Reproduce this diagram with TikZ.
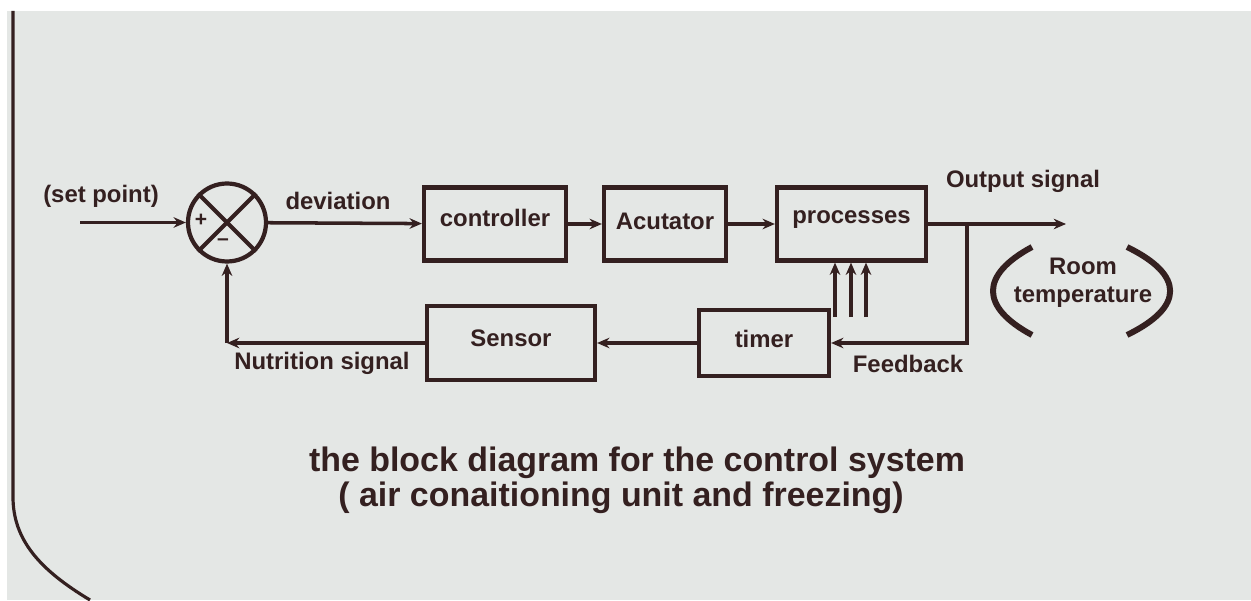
\documentclass[tikz,border=0pt]{standalone}
\usepackage{fontspec}
\setmainfont{Liberation Sans}
\usetikzlibrary{arrows.meta,positioning,calc}
\definecolor{ink}{RGB}{52,32,32}
\definecolor{paper}{RGB}{228,231,229}
\tikzset{
  block/.style={draw=ink,line width=2.4pt,minimum height=1.46cm,inner sep=0pt},
  lbl/.style={text=ink,font=\fontsize{13.6}{16}\selectfont\bfseries,inner sep=0pt},
  wire/.style={ink,line width=2pt}
}

\begin{document}
\begin{tikzpicture}[>={Stealth[length=7pt,width=6pt]}]
  \useasboundingbox (0,0) rectangle (25.02,12);
  % photographed sheet
  \fill[white] (0,0) rectangle (25.02,12);
  \fill[paper] (0.14,0) rectangle (25.02,11.78);
  \draw[ink,line width=1.8pt] (0.26,11.78) -- (0.26,2.06) .. controls (0.26,1.2) and (0.8,0.6) .. (1.8,0);
  % forward path
  \node[circle,draw=ink,line width=2.4pt,minimum size=1.56cm,inner sep=0pt] (sum) at (4.54,7.55) {};
  \draw[ink,line width=2.4pt] (sum.north west) -- (sum.south east);
  \draw[ink,line width=2.4pt] (sum.north east) -- (sum.south west);
  \node[text=ink,font=\large\bfseries] (plus) at ($(sum)+(-0.52,0.05)$) {+};
  \node[text=ink,font=\large\bfseries] (minus) at ($(sum)+(-0.08,-0.4)$) {--};
  \node[block,minimum width=2.84cm] (ctrl) at (9.9,7.52) {};
  \node[lbl] at ($(ctrl)+(0,0.12)$) {controller};
  \node[block,minimum width=2.44cm] (act) at (13.3,7.52) {};
  \node[lbl] at ($(act)+(0,0.05)$) {Acutator};
  \node[block,minimum width=2.98cm] (proc) at (17.03,7.52) {};
  \node[lbl] at ($(proc)+(0,0.08)$) {processes};
  % feedback path
  \node[block,minimum width=2.6cm,minimum height=1.32cm] (tmr) at (15.28,5.14) {};
  \node[lbl] at ($(tmr)+(0,0.08)$) {timer};
  \node[block,minimum width=3.36cm,minimum height=1.48cm] (sens) at (10.22,5.14) {};
  \node[lbl] at ($(sens)+(0,0.1)$) {Sensor};
  \coordinate (In) at (1.6,7.55);
  \coordinate (Out) at (21.32,7.52);
  \coordinate (Br) at (19.34,7.52);
  \coordinate (C) at (4.54,5.14);
  \draw[->,wire] (In) -- (sum);
  \draw[->,wire] (sum) -- (ctrl);
  \draw[->,wire] (ctrl) -- (act);
  \draw[->,wire] (act) -- (proc);
  \draw[->,wire] (proc) -- (Out);
  \draw[->,wire] (Br) |- (tmr.east);
  \draw[->,wire] (tmr) -- (sens);
  \draw[->,wire] (sens) -- (C);
  \draw[->,wire] (C) -- (sum);
  \foreach \i/\x in {1/16.7,2/17.02,3/17.32} {
    \coordinate (u\i) at (\x,5.66);
    \draw[->,wire] (u\i) -- (u\i |- proc.south);
  }
  % labels
  \node[lbl] (setp) at (2.02,8.08) {(set point)};
  \node[lbl] (dev) at (6.76,7.98) {deviation};
  \node[lbl] (outs) at (20.46,8.38) {Output signal};
  \node[lbl] (nut) at (6.44,4.74) {Nutrition signal};
  \node[lbl] (fb) at (18.16,4.72) {Feedback};
  \node[lbl,align=center] (room) at (21.66,6.34) {Room\\temperature};
  \draw[ink,line width=3.4pt] (20.64,7.06) .. controls (19.6,6.5) and (19.6,5.86) .. (20.64,5.3);
  \draw[ink,line width=3.4pt] (22.54,7.06) .. controls (23.69,6.5) and (23.69,5.86) .. (22.54,5.3);
  % caption
  \node[text=ink,font=\fontsize{19.3}{23}\selectfont\bfseries,inner sep=0pt] (cap1) at (12.74,2.74) {the block diagram for the control system};
  \node[text=ink,font=\fontsize{19.3}{23}\selectfont\bfseries,inner sep=0pt] (cap2) at (12.42,2.04) {( air conaitioning unit and freezing)};
\end{tikzpicture}
\end{document}
